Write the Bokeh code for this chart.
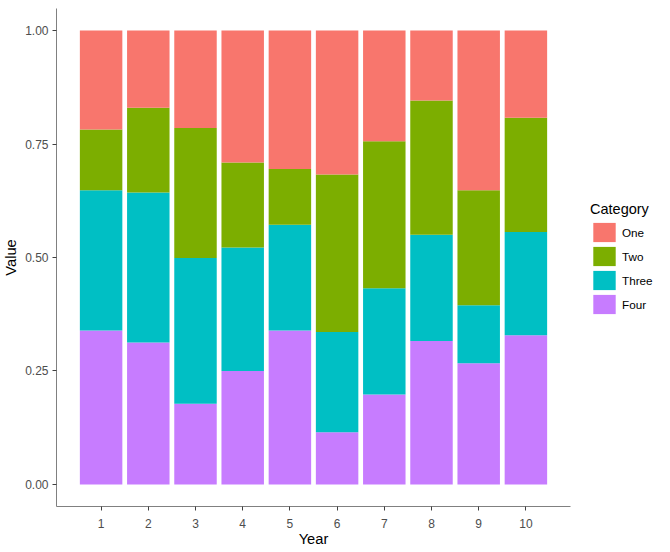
from bokeh.plotting import figure
from bokeh.models import (Range1d, FixedTicker, NumeralTickFormatter, Legend, LegendItem,
                          ColumnDataSource)
from bokeh.embed import file_html
from bokeh.resources import INLINE

years = [1, 2, 3, 4, 5, 6, 7, 8, 9, 10]
categories = ["One", "Two", "Three", "Four"]
one = [0.218, 0.170, 0.215, 0.291, 0.305, 0.317, 0.244, 0.154, 0.352, 0.192]
two = [0.134, 0.187, 0.286, 0.187, 0.123, 0.347, 0.324, 0.296, 0.253, 0.252]
three = [0.309, 0.330, 0.321, 0.272, 0.233, 0.221, 0.234, 0.234, 0.128, 0.227]
four = [0.339, 0.313, 0.178, 0.250, 0.339, 0.115, 0.198, 0.316, 0.267, 0.329]
colors = {"One": "#F8766D", "Two": "#7CAE00", "Three": "#00BFC4", "Four": "#C77CFF"}
y_ticks = [0.0, 0.25, 0.5, 0.75, 1.0]

source = ColumnDataSource(dict(year=years, One=one, Two=two, Three=three, Four=four))

FONT = "Liberation Sans"

p = figure(frame_width=514, frame_height=498, output_backend="svg", toolbar_location=None,
           x_range=Range1d(0.055, 10.945), y_range=Range1d(-0.04846, 1.04846),
           min_border_left=40, min_border_top=8, min_border_bottom=38, min_border_right=99)

stack_order = ["Four", "Three", "Two", "One"]
renderers = p.vbar_stack(stack_order, x="year", width=0.9, source=source,
                         color=[colors[c] for c in stack_order], line_color=None)
rmap = dict(zip(stack_order, renderers))

legend = Legend(items=[LegendItem(label=c, renderers=[rmap[c]]) for c in categories],
                title="Category", location=(20, 190))
legend.title_text_font = FONT
legend.title_text_font_size = "14.5px"
legend.title_text_font_style = "normal"
legend.title_text_color = "#000000"
legend.title_standoff = 3
legend.label_text_font = FONT
legend.label_text_font_size = "11.7px"
legend.label_text_color = "#000000"
legend.glyph_width = 28
legend.glyph_height = 24
legend.label_height = 20
legend.spacing = 0
legend.label_standoff = 4
legend.padding = 0
legend.margin = 0
legend.border_line_color = None
legend.background_fill_alpha = 0
p.add_layout(legend, "right")

p.xgrid.visible = False
p.ygrid.visible = False
p.outline_line_color = None

p.xaxis.ticker = FixedTicker(ticks=years)
p.yaxis.ticker = FixedTicker(ticks=y_ticks)
p.yaxis.formatter = NumeralTickFormatter(format="0.00")
p.xaxis.axis_label = "Year"
p.yaxis.axis_label = "Value"

for ax in (p.xaxis[0], p.yaxis[0]):
    ax.axis_line_color = "#808080"
    ax.axis_line_width = 1
    ax.major_tick_line_color = "#404040"
    ax.major_tick_in = 0
    ax.major_tick_out = 4
    ax.minor_tick_line_color = None
    ax.major_label_text_font = FONT
    ax.major_label_text_font_size = "12px"
    ax.major_label_text_color = "#4D4D4D"
    ax.axis_label_text_font = FONT
    ax.axis_label_text_font_size = "14.7px"
    ax.axis_label_text_font_style = "normal"
    ax.axis_label_text_color = "#000000"
    ax.major_label_standoff = 5
    ax.axis_label_standoff = 4

p.xaxis[0].major_label_standoff = 8
p.xaxis[0].axis_label_standoff = 0
p.yaxis[0].major_label_standoff = 4
p.yaxis[0].axis_label_standoff = 3

open("out.html", "w").write(file_html(p, INLINE))
